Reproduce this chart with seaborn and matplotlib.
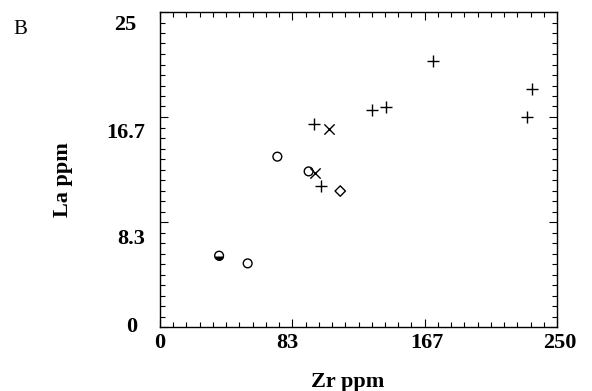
import matplotlib
matplotlib.use("Agg")
import matplotlib.pyplot as plt
import matplotlib.transforms as mtransforms
from matplotlib.markers import MarkerStyle
from matplotlib.ticker import FixedLocator, MultipleLocator
import seaborn as sns

# ---- data ----
plus_x = [172.1, 234.5, 230.9, 133.3, 142.1, 97.0, 101.6]
plus_y = [21.13, 18.9, 16.64, 17.22, 17.48, 16.09, 11.21]
cross_x = [106.6, 97.6]
cross_y = [15.69, 12.2]
circle_x = [73.9, 93.6, 55.2]
circle_y = [13.52, 12.35, 5.05]
diamond_x = [113.5]
diamond_y = [10.79]
half_x = [37.2]
half_y = [5.66]

x_ticks = [0, 250 / 3, 500 / 3, 250]
x_labels = ["0", "83", "167", "250"]
y_ticks = [0, 25 / 3, 50 / 3, 25]
y_labels = ["0", "8.3", "16.7", "25"]

sns.set_theme(style="ticks")
plt.rcParams["font.family"] = ["Liberation Serif", "DejaVu Serif"]
plt.rcParams["font.weight"] = "bold"
for key in ["text.color", "axes.labelcolor", "xtick.color", "ytick.color", "axes.edgecolor"]:
    plt.rcParams[key] = "black"

fig = plt.figure(figsize=(5.92, 3.91), dpi=100)
ax = fig.add_axes([160 / 592, 1 - 327 / 391, 397 / 592, 315 / 391])

k = dict(ax=ax, color="black", legend=False)
sns.scatterplot(x=plus_x, y=plus_y, marker="+", s=80, linewidth=1.0, **k)
sns.scatterplot(x=cross_x, y=cross_y, marker="x", s=55, linewidth=1.0, **k)
sns.scatterplot(x=circle_x, y=circle_y, marker="o", s=40, facecolor="none",
                edgecolor="black", linewidth=1.0, ax=ax, legend=False)
sns.scatterplot(x=diamond_x, y=diamond_y, marker="D", s=28, facecolor="none",
                edgecolor="black", linewidth=1.0, ax=ax, legend=False)
sns.scatterplot(x=half_x, y=half_y, marker=MarkerStyle("o", fillstyle="bottom"),
                s=40, color="black", linewidth=0, ax=ax, legend=False)
sns.scatterplot(x=half_x, y=half_y, marker="o", s=40, facecolor="none",
                edgecolor="black", linewidth=1.0, ax=ax, legend=False)

ax.set_xlim(0, 250)
ax.set_ylim(0, 25)
ax.xaxis.set_major_locator(FixedLocator(x_ticks))
ax.yaxis.set_major_locator(FixedLocator(y_ticks))
ax.set_xticklabels(x_labels)
ax.set_yticklabels(y_labels)
ax.xaxis.set_minor_locator(MultipleLocator(250 / 30))
ax.yaxis.set_minor_locator(MultipleLocator(25 / 30))

for s in ax.spines.values():
    s.set_linewidth(1.0)
    s.set_color("black")

ax.tick_params(which="both", direction="in", top=True, right=True,
               color="black", width=0.8)
ax.tick_params(which="major", length=6)
ax.tick_params(which="minor", length=3.6)
ax.tick_params(axis="y", which="major", pad=11, labelsize=16)
ax.tick_params(axis="x", which="major", pad=4, labelsize=16)

for lab in ax.get_xticklabels() + ax.get_yticklabels():
    lab.set_fontweight("bold")
    lab.set_color("black")

# per-label nudges (pixels at 100 dpi)
x_off = [0, -5, 2, 3]
for lab, dx in zip(ax.get_xticklabels(), x_off):
    lab.set_transform(lab.get_transform() + mtransforms.ScaledTranslation(dx / 100, 0, fig.dpi_scale_trans))
y_off = [(-7, 3), (0, -14), (0, -14), (-8, -10)]
for lab, (dx, dy) in zip(ax.get_yticklabels(), y_off):
    lab.set_transform(lab.get_transform() + mtransforms.ScaledTranslation(dx / 100, dy / 100, fig.dpi_scale_trans))

ax.set_xlabel("Zr ppm", fontsize=16, fontweight="bold", va="center")
ax.xaxis.set_label_coords((348 - 160) / 397, -(382 - 327) / 315)
ax.set_ylabel("La ppm", fontsize=16, fontweight="bold", va="center")
ax.yaxis.set_label_coords((63 - 160) / 397, (327 - 180) / 315)

fig.text(13 / 592, 1 - 29 / 391, "B", fontsize=15, fontweight="normal",
         va="center", ha="left")

fig.savefig("out.png", dpi=100)
